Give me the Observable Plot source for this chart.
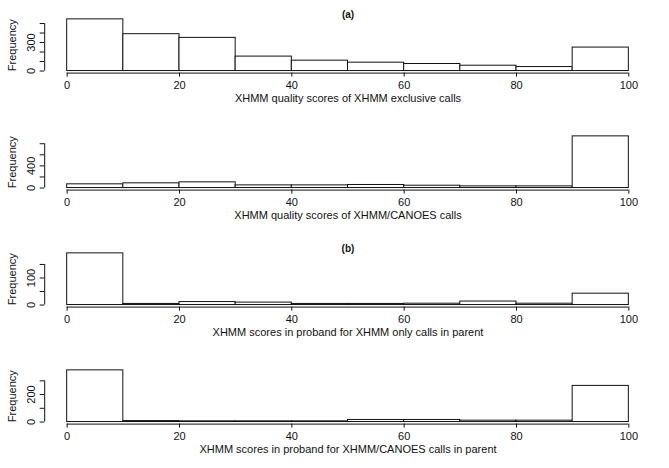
<!DOCTYPE html>
<html><head><meta charset="utf-8">
<script src="https://cdn.jsdelivr.net/npm/d3@7"></script>
<script src="https://cdn.jsdelivr.net/npm/@observablehq/plot@0.6"></script>
<style>body{margin:0;background:#fff} svg{display:block}</style>
</head><body><div id="chart"></div>
<script>
const binEdges = [0,10,20,30,40,50,60,70,80,90,100];
const countsA1 = [544,388,349,152,109,88,74,56,42,247];
const countsA2 = [67,85,103,48,48,55,42,30,30,933];
const countsB1 = [191,4,11,9,4,4,5,13,5,42];
const countsB2 = [376,7,5,5,5,15,15,10,10,263];
const xTicks = [0,20,40,60,80,100];
const yTicksA1 = [0,100,200,300,400,500];
const yLabelsA1 = [0,300];
const yTicksA2 = [0,200,400,600,800];
const yLabelsA2 = [0,400];
const yTicksB1 = [0,50,100,150];
const yLabelsB1 = [0,100];
const yTicksB2 = [0,100,200,300];
const yLabelsB2 = [0,200];
const xTitles = [
  "XHMM quality scores of XHMM exclusive calls",
  "XHMM quality scores of XHMM/CANOES calls",
  "XHMM scores in proband for XHMM only calls in parent",
  "XHMM scores in proband for XHMM/CANOES calls in parent"
];
const panelTitles = ["(a)", "", "(b)", ""];
const yTitle = "Frequency";

const FONT = "'Liberation Sans', Arial, Helvetica, sans-serif";
const INK = "#111";

function panel(counts, yTicks, yLabels, xTitle, title) {
  const M = d3.max(counts);
  const bins = counts.map((c, i) => ({x1: binEdges[i], x2: binEdges[i + 1], count: c}));
  const xmin = binEdges[0], xmax = binEdges[binEdges.length - 1];
  const pad = 0.04 * (xmax - xmin);
  const marks = [
    Plot.rectY(bins, {x1: "x1", x2: "x2", y1: 0, y2: "count", fill: "white", stroke: INK, strokeWidth: 1}),
    Plot.ruleY([-0.04 * M], {x1: xmin, x2: xmax, stroke: INK}),
    Plot.ruleX([xmin - pad], {y1: yTicks[0], y2: yTicks[yTicks.length - 1], stroke: INK}),
    Plot.axisX({ticks: xTicks, tickSize: 4, tickPadding: 4.5, label: null, fontSize: 11, stroke: INK, fill: INK}),
    Plot.axisY({ticks: yTicks, tickSize: 4.5, tickFormat: () => "", label: null, stroke: INK}),
    Plot.text(yLabels, {y: d => d, text: d => String(d), frameAnchor: "left", textAnchor: "middle", dx: -13, rotate: -90, fontSize: 11, fill: INK}),
    Plot.text([xTitle], {frameAnchor: "bottom", dy: 29, fontSize: 11, fill: INK}),
    Plot.text([yTitle], {frameAnchor: "left", textAnchor: "middle", dx: -32, rotate: -90, fontSize: 11, fill: INK})
  ];
  if (title) marks.push(Plot.text([title], {frameAnchor: "top", dy: -6.5, fontSize: 10, fontWeight: "bold", fill: INK}));
  return Plot.plot({
    width: 669, height: 117,
    marginLeft: 44.2, marginRight: 18.2, marginTop: 16.8, marginBottom: 44.4,
    style: {fontFamily: FONT, fontSize: "11px", background: "white", color: INK},
    x: {domain: [xmin - pad, xmax + pad]},
    y: {domain: [-0.04 * M, 1.04 * M]},
    marks
  });
}

const chart = document.getElementById("chart");
chart.append(panel(countsA1, yTicksA1, yLabelsA1, xTitles[0], panelTitles[0]));
chart.append(panel(countsA2, yTicksA2, yLabelsA2, xTitles[1], panelTitles[1]));
chart.append(panel(countsB1, yTicksB1, yLabelsB1, xTitles[2], panelTitles[2]));
chart.append(panel(countsB2, yTicksB2, yLabelsB2, xTitles[3], panelTitles[3]));
</script>
</body></html>
